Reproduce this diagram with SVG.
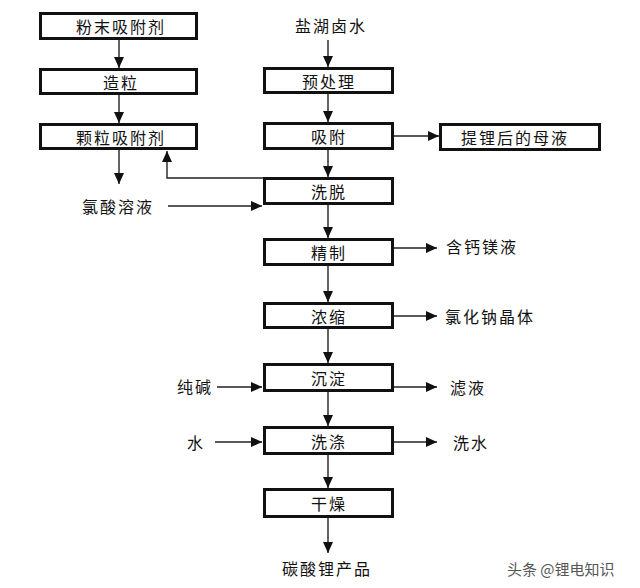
<svg xmlns="http://www.w3.org/2000/svg" width="640" height="588" viewBox="0 0 640 588">
<defs>
<marker id="ah" markerUnits="userSpaceOnUse" markerWidth="12" markerHeight="10" refX="11" refY="5" orient="auto">
<path d="M0,0 L11,5 L0,10 Z" fill="#111"/>
</marker>
<style>
.box{fill:#fff;stroke:#111;stroke-width:3}
.t{font-family:"Noto Sans CJK SC","Noto Sans",sans-serif;font-size:16px;fill:#111;letter-spacing:2px;dominant-baseline:central}
.m{text-anchor:middle}
.ln{fill:none;stroke:#222;stroke-width:1.4}
.wm{font-family:"Noto Sans CJK SC",sans-serif;font-size:15px;fill:#555;dominant-baseline:central}
</style>
</defs>
<rect width="640" height="588" fill="#fff"/>
<g id="connectors">
<path class="ln" d="M119,40 V68" marker-end="url(#ah)"/>
<path class="ln" d="M119,95 V123" marker-end="url(#ah)"/>
<path class="ln" d="M119,150 V184" marker-end="url(#ah)"/>
<path class="ln" d="M263,178 H167 V151" marker-end="url(#ah)"/>
<path class="ln" d="M168,206 H262" marker-end="url(#ah)"/>
<path class="ln" d="M328,40 V67" marker-end="url(#ah)"/>
<path class="ln" d="M328,94 V122" marker-end="url(#ah)"/>
<path class="ln" d="M328,150 V177" marker-end="url(#ah)"/>
<path class="ln" d="M328,205 V238" marker-end="url(#ah)"/>
<path class="ln" d="M328,266 V302" marker-end="url(#ah)"/>
<path class="ln" d="M328,329 V363" marker-end="url(#ah)"/>
<path class="ln" d="M328,392 V426" marker-end="url(#ah)"/>
<path class="ln" d="M328,455 V488" marker-end="url(#ah)"/>
<path class="ln" d="M328,518 V553" marker-end="url(#ah)"/>
<path class="ln" d="M393,136 H439" marker-end="url(#ah)"/>
<path class="ln" d="M393,248 H437" marker-end="url(#ah)"/>
<path class="ln" d="M393,316 H437" marker-end="url(#ah)"/>
<path class="ln" d="M393,387 H437" marker-end="url(#ah)"/>
<path class="ln" d="M393,442 H437" marker-end="url(#ah)"/>
<path class="ln" d="M217,387 H262" marker-end="url(#ah)"/>
<path class="ln" d="M215,442 H262" marker-end="url(#ah)"/>
</g>
<g id="n-powder"><rect class="box" x="40.5" y="13.5" width="156" height="25"/><text class="t m" x="121" y="26">粉末吸附剂</text></g>
<g id="n-granulate"><rect class="box" x="40.5" y="69.5" width="156" height="24"/><text class="t m" x="121" y="82">造粒</text></g>
<g id="n-granular"><rect class="box" x="40.5" y="124.5" width="156" height="24"/><text class="t m" x="121" y="137">颗粒吸附剂</text></g>
<g id="n-hcl"><text class="t m" x="118" y="206">氯酸溶液</text></g>
<g id="n-brine"><text class="t m" x="331" y="25">盐湖卤水</text></g>
<g id="n-pretreat"><rect class="box" x="264.5" y="68.5" width="128" height="24"/><text class="t m" x="329" y="81">预处理</text></g>
<g id="n-adsorb"><rect class="box" x="264.5" y="123.5" width="128" height="25"/><text class="t m" x="329" y="136">吸附</text></g>
<g id="n-mother"><rect class="box" x="440.5" y="124.5" width="159" height="25"/><text class="t m" x="515" y="137">提锂后的母液</text></g>
<g id="n-elute"><rect class="box" x="264.5" y="178.5" width="128" height="25"/><text class="t m" x="329" y="191">洗脱</text></g>
<g id="n-refine"><rect class="box" x="264.5" y="239.5" width="128" height="25"/><text class="t m" x="329" y="252">精制</text></g>
<g id="n-camg"><text class="t" x="446" y="246">含钙镁液</text></g>
<g id="n-concentrate"><rect class="box" x="264.5" y="303.5" width="128" height="24"/><text class="t m" x="329" y="316">浓缩</text></g>
<g id="n-nacl"><text class="t" x="445" y="316">氯化钠晶体</text></g>
<g id="n-precip"><rect class="box" x="264.5" y="364.5" width="128" height="26"/><text class="t m" x="329" y="378">沉淀</text></g>
<g id="n-soda"><text class="t" x="177" y="386">纯碱</text></g>
<g id="n-filtrate"><text class="t" x="450" y="387">滤液</text></g>
<g id="n-wash"><rect class="box" x="264.5" y="427.5" width="128" height="26"/><text class="t m" x="329" y="441">洗涤</text></g>
<g id="n-water"><text class="t" x="187" y="442">水</text></g>
<g id="n-washwater"><text class="t" x="453" y="442">洗水</text></g>
<g id="n-dry"><rect class="box" x="264.5" y="489.5" width="128" height="27"/><text class="t m" x="329" y="503">干燥</text></g>
<g id="n-product"><text class="t m" x="327" y="568">碳酸锂产品</text></g>
<text class="wm" x="507" y="568">头条 @锂电知识</text>
</svg>
